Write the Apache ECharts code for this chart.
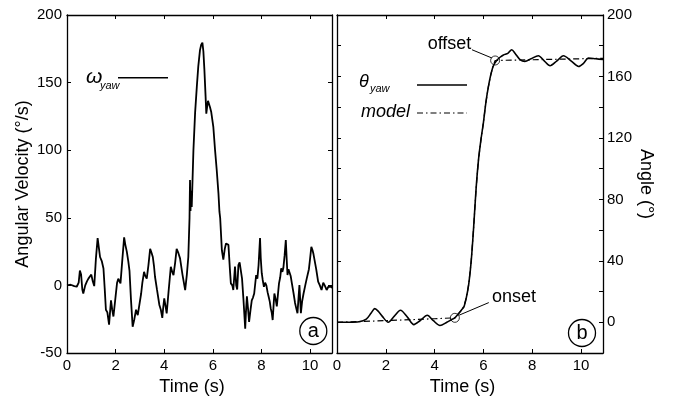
<!DOCTYPE html>
<html>
<head>
<meta charset="utf-8">
<script src="https://cdn.jsdelivr.net/npm/echarts@6/dist/echarts.min.js"></script>
<style>html,body{margin:0;padding:0;background:#fff;}#c{width:678px;height:396px;}</style>
</head>
<body>
<div id="c"></div>
<script>
// ---- data ----
const omegaT = [0.00,0.15,0.30,0.40,0.48,0.53,0.58,0.63,0.67,0.75,0.82,0.88,0.95,1.00,1.06,1.12,1.19,1.26,1.31,1.36,1.43,1.50,1.55,1.60,1.66,1.73,1.77,1.81,1.86,1.91,2.00,2.06,2.11,2.16,2.20,2.28,2.35,2.40,2.46,2.52,2.57,2.63,2.70,2.77,2.84,2.91,2.98,3.05,3.10,3.17,3.22,3.28,3.35,3.42,3.48,3.53,3.58,3.62,3.70,3.80,3.86,3.92,3.96,4.00,4.05,4.10,4.18,4.27,4.33,4.38,4.45,4.51,4.58,4.65,4.75,4.86,4.93,4.99,5.04,5.06,5.08,5.10,5.13,5.20,5.27,5.34,5.40,5.47,5.52,5.57,5.61,5.65,5.70,5.73,5.77,5.80,5.85,5.88,5.93,6.02,6.09,6.16,6.23,6.27,6.30,6.37,6.43,6.49,6.54,6.60,6.64,6.70,6.74,6.80,6.84,6.91,6.96,7.00,7.05,7.10,7.15,7.20,7.26,7.33,7.36,7.40,7.45,7.49,7.55,7.60,7.65,7.70,7.78,7.83,7.88,7.94,7.97,8.01,8.05,8.10,8.15,8.20,8.25,8.29,8.34,8.38,8.42,8.46,8.50,8.53,8.58,8.63,8.68,8.72,8.77,8.81,8.86,8.90,8.95,9.00,9.04,9.07,9.11,9.15,9.20,9.25,9.32,9.38,9.43,9.48,9.52,9.56,9.59,9.62,9.67,9.73,9.80,9.86,9.90,9.95,10.00,10.05,10.10,10.14,10.19,10.25,10.33,10.40,10.47,10.54,10.60,10.68,10.75,10.81,10.88,10.90];
const omegaV = [0,0.5,-0.5,-1,2,11,8,-3,-6,0,3,5,4,8,3,-0.5,20,35,28,21,18,12.5,-2,-18,-20,-29,-20,-11,-18,-23,-8,2,5,3,1.5,20,35.5,30,25,18,11,-10,-30.6,-25,-18,-22,-20.7,-6,2,10,7,5,15,27,24,21,14,6.4,-3,-14.5,-18,-24,-16,-9.6,-15,-20.7,-4,13.8,10,7.6,17,27,24,20,8,-3.5,8,21,50,78,55,70,58,100,128,147,162,174,178,179.5,173,160,140,127,133,136.5,136,132,128.5,117,100,85,68,54.5,50,26,19,27,31,31,30,12,1.5,0,-3.4,14,0,-3,15,17,16,5,-11,-32,-20,-8,-18,-27,-18,-11,-9,-6,7.7,5,15,35,20,9,4,-1,2,0,-5,-8,-12,-17,-20,-25.6,-14,-6,-10,-15.5,-6,1.5,6,12.6,10,13,22,33.6,18,7.7,12,13,7,1.5,-6,-13,-17,-20.6,-10,0.3,-10,-20.6,-12,-6,0,5,4,12,20,28.6,26,23,22,12,2.8,0,-3.4,2,0,-3.4,-1,0,-1,-2];

const thetaT = [0,0.5,0.9,1.2,1.4,1.55,1.7,1.85,2.1,2.35,2.6,2.9,3.15,3.4,3.7,3.95,4.22,4.5,4.7,4.83,5.0,5.1,5.2,5.3,5.4,5.5,5.6,5.7,5.8,5.9,6.0,6.1,6.2,6.3,6.41,6.55,6.68,6.82,7.0,7.16,7.3,7.5,7.7,7.95,8.25,8.5,8.73,9.0,9.28,9.6,9.9,10.1,10.3,10.6,10.9];
const thetaV = [0,0,0.3,2,6,8.9,7,4,0,4,7.8,3,-1.5,1,4.6,1,-2.1,0,1.8,2.9,6,8,10,16,25,40,62,87,106,119,130,143,153,161,167,170.5,172.5,174,175,177.4,175,171,169.8,171.5,173.5,170,167,170,173.5,170,166.5,168.5,172,171.5,171];

const modelT = [0,1,2,3,4,4.83,5.0,5.1,5.2,5.3,5.4,5.5,5.6,5.7,5.8,5.9,6.0,6.1,6.2,6.3,6.4,6.48,10.9];
const modelV = [0,0.5,1.1,1.7,2.3,2.9,6,8,10.5,16,25,40,62,87,106,119,130,143,153,161,167,170.4,171.8];

const eventT = [4.83, 6.48];      // onset, offset
const eventV = [2.9, 170.4];

const xTicks = [0,2,4,6,8,10];
const leftYTicks = [-50,0,50,100,150,200];
const rightYTicks = [0,40,80,120,160,200];

// ---- chart ----
const zip = (a, b) => a.map((v, i) => [v, b[i]]);
const FONT = 'Liberation Sans, Arial, sans-serif';
const axisLine = {show: true, onZero: false, lineStyle: {color: '#000', width: 1.3}};
const tick = {show: true, inside: true, length: 4, lineStyle: {color: '#000', width: 1}};
const lblStyle = {color: '#000', fontFamily: FONT, fontSize: 15};

function xAx(grid, pos, labels) {
  return {
    type: 'value', gridIndex: grid, position: pos, min: 0, max: 10.9, interval: 2,
    axisLine, axisTick: tick, splitLine: {show: false},
    axisLabel: labels ? Object.assign({show: true, margin: 5,
      formatter: v => (xTicks.indexOf(v) >= 0 ? String(v) : '')}, lblStyle) : {show: false},
    name: labels ? 'Time (s)' : '', nameLocation: 'middle', nameGap: 24,
    nameTextStyle: {color: '#000', fontFamily: FONT, fontSize: 18, padding: [0, 15, 0, 0]}
  };
}

// text placed by its baseline (canvas 'middle' offset)
function txt(x, base, s, font, size, align) {
  return {type: 'text', style: {x: x, y: base - 0.35 * size, text: s, font: font + ' ' + size + 'px ' + FONT,
    fill: '#000', align: align || 'left', verticalAlign: 'middle'}};
}

const chart = echarts.init(document.getElementById('c'), null, {renderer: 'canvas'});
const option = {
  animation: false,
  backgroundColor: '#fff',
  grid: [
    {left: 67, top: 15, width: 265, height: 338, containLabel: false, outerBoundsMode: 'none'},
    {left: 337, top: 15, width: 266, height: 338, containLabel: false, outerBoundsMode: 'none'}
  ],
  xAxis: [xAx(0, 'bottom', true), xAx(0, 'top', false), xAx(1, 'bottom', true), xAx(1, 'top', false)],
  yAxis: [
    {type: 'value', gridIndex: 0, position: 'left', min: -50, max: 200, interval: 50,
     axisLine, axisTick: tick, splitLine: {show: false},
     axisLabel: Object.assign({margin: 5, formatter: v => (leftYTicks.indexOf(v) >= 0 ? String(v) : '')}, lblStyle),
     name: 'Angular Velocity (°/s)', nameLocation: 'middle', nameGap: 35,
     nameTextStyle: {color: '#000', fontFamily: FONT, fontSize: 18}},
    {type: 'value', gridIndex: 0, position: 'right', min: -50, max: 200, interval: 50,
     axisLine, axisTick: tick, splitLine: {show: false}, axisLabel: {show: false}},
    {type: 'value', gridIndex: 1, position: 'right', min: -20, max: 200, interval: 20,
     axisLine, axisTick: tick, splitLine: {show: false},
     axisLabel: Object.assign({margin: 4, formatter: v => (rightYTicks.indexOf(v) >= 0 ? String(v) : '')}, lblStyle),
     name: 'Angle (°)', nameLocation: 'middle', nameGap: 34, nameRotate: -90,
     nameTextStyle: {color: '#000', fontFamily: FONT, fontSize: 18}},
    {type: 'value', gridIndex: 1, position: 'left', min: -20, max: 200, interval: 20,
     axisLine, axisTick: tick, splitLine: {show: false}, axisLabel: {show: false}}
  ],
  series: [
    {type: 'line', xAxisIndex: 0, yAxisIndex: 0, data: zip(omegaT, omegaV), symbol: 'none',
     lineStyle: {color: '#000', width: 1.8}, z: 3},
    {type: 'line', xAxisIndex: 2, yAxisIndex: 2, data: zip(modelT, modelV), symbol: 'none',
     lineStyle: {color: '#000', width: 1.2, type: [6, 3, 1.5, 3]}, z: 3},
    {type: 'line', xAxisIndex: 2, yAxisIndex: 2, data: zip(thetaT, thetaV), symbol: 'none', smooth: 0.3,
     lineStyle: {color: '#000', width: 1.6}, z: 4},
    {type: 'scatter', xAxisIndex: 2, yAxisIndex: 2, data: zip(eventT, eventV), symbol: 'circle', symbolSize: 9,
     itemStyle: {color: 'rgba(0,0,0,0)', borderColor: '#000', borderWidth: 1}, z: 5},
    // leader lines
    {type: 'line', xAxisIndex: 2, yAxisIndex: 2, data: [[5.0, 4.6], [6.22, 12.8]], symbol: 'none',
     lineStyle: {color: '#000', width: 1}, z: 5},
    {type: 'line', xAxisIndex: 2, yAxisIndex: 2, data: [[5.53, 177.4], [6.35, 172.0]], symbol: 'none',
     lineStyle: {color: '#000', width: 1}, z: 5}
  ],
  graphic: [
    // legend left
    txt(86, 85, 'ω', 'italic', 21),
    txt(100, 90, 'yaw', 'italic', 11),
    {type: 'line', shape: {x1: 118, y1: 77.7, x2: 168, y2: 77.7}, style: {stroke: '#000', lineWidth: 1.6}},
    // legend right
    txt(359, 88, 'θ', 'italic', 18),
    txt(370, 93, 'yaw', 'italic', 11),
    {type: 'line', shape: {x1: 417, y1: 85, x2: 467, y2: 85}, style: {stroke: '#000', lineWidth: 1.6}},
    txt(361, 118, 'model', 'italic', 18),
    {type: 'line', shape: {x1: 417, y1: 113, x2: 467, y2: 113}, style: {stroke: '#000', lineWidth: 1.2, lineDash: [6, 3, 1.5, 3]}},
    // event labels
    txt(449.5, 50, 'offset', '', 18, 'center'),
    txt(514, 303, 'onset', '', 18, 'center'),
    // panel marks
    {type: 'circle', shape: {cx: 313.3, cy: 331, r: 13.5}, style: {fill: 'none', stroke: '#000', lineWidth: 1.3}},
    {type: 'text', style: {x: 313.3, y: 331, text: 'a', font: '20px ' + FONT, fill: '#000', align: 'center', verticalAlign: 'middle'}},
    {type: 'circle', shape: {cx: 582, cy: 333, r: 13.5}, style: {fill: 'none', stroke: '#000', lineWidth: 1.3}},
    {type: 'text', style: {x: 582, y: 333, text: 'b', font: '20px ' + FONT, fill: '#000', align: 'center', verticalAlign: 'middle'}}
  ]
};
chart.setOption(option);
</script>
</body>
</html>
